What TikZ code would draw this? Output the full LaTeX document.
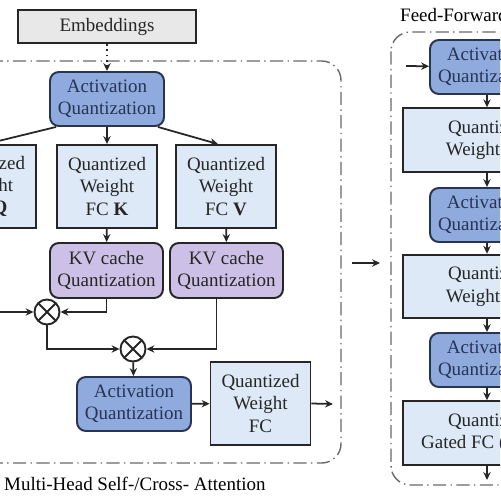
\documentclass[tikz,border=0pt]{standalone}
\usepackage{fontspec}
\setmainfont{Liberation Serif}
\usetikzlibrary{arrows.meta,positioning}

\definecolor{actfill}{RGB}{143,170,220}
\definecolor{actline}{RGB}{38,52,86}
\definecolor{wfill}{RGB}{221,233,246}
\definecolor{kvfill}{RGB}{205,192,230}
\definecolor{embfill}{RGB}{232,232,232}
\definecolor{frame}{RGB}{105,105,105}

\tikzset{
	blk/.style = {draw=black!85, line width=1.1pt, align=center, inner sep=1pt,
		font=\fontsize{10.8}{12.6}\selectfont, text=black!85},
	actq/.style = {blk, draw=actline, fill=actfill, text=actline, rounded corners=5pt,
		minimum width=2.28cm, minimum height=1.08cm},
	wfc/.style = {blk, fill=wfill, minimum width=2cm, minimum height=1.66cm},
	wide/.style = {blk, fill=wfill, minimum width=3.36cm, minimum height=1.27cm},
	kvq/.style = {blk, fill=kvfill, rounded corners=5pt,
		minimum width=2.26cm, minimum height=1.1cm},
	mult/.style = {circle, draw=black!85, line width=1.1pt, minimum size=.5cm, inner sep=0pt, fill=white,
		path picture={\draw[line width=1.1pt] (path picture bounding box.south west) -- (path picture bounding box.north east)
			(path picture bounding box.north west) -- (path picture bounding box.south east);}},
	group/.style = {draw=frame, line width=.8pt, rounded corners=11pt,
		dash pattern=on 7.5pt off 2.5pt on .8pt off 2.5pt},
	flow/.style = {-{Stealth[length=4.5pt,width=4.2pt]}, line width=1pt, draw=black!85},
}

\begin{document}
\begin{tikzpicture}[x=0.02cm, y=0.02cm]
	\useasboundingbox (0,0) rectangle (500,-500);
	\clip (0,0) rectangle (500,-500);
	% 枠
	\draw [group] (-80,-61) rectangle (341,-463);
	\draw [group] (391,-32) rectangle (620,-485);
	\node [anchor=west, font=\fontsize{10.8}{12.6}\selectfont] (mhsa) at (-2,-484) {Multi-Head Self-/Cross- Attention};
	\node [anchor=west, font=\fontsize{10.8}{12.6}\selectfont] (ffn) at (394,-15) {Feed-Forward Network};

	% 注意機構
	\node [blk, fill=embfill, minimum width=3.56cm, minimum height=.66cm] (emb) at (107,-26.5) {Embeddings};
	\node [actq] (aq1) at (107,-99) {Activation\\Quantization};
	\node [wfc] (wq) at (-14,-186.5) {Quantized\\Weight\\FC \textbf{Q}};
	\node [wfc] (wk) at (107,-186.5) {Quantized\\Weight\\FC \textbf{K}};
	\node [wfc] (wv) at (226,-186.5) {Quantized\\Weight\\FC \textbf{V}};
	\node [kvq] (kvk) at (106.5,-270.5) {KV cache\\Quantization};
	\node [kvq] (kvv) at (226.5,-270.5) {KV cache\\Quantization};
	\node [mult] (m1) at (47,-312) {};
	\node [mult] (m2) at (133,-349) {};
	\node [actq] (aq2) at (134,-404) {Activation\\Quantization};
	\node [wfc] (wo) at (260.5,-403.5) {Quantized\\Weight\\FC};
	\coordinate (qin) at (-10,-312);
	\coordinate (aout) at (333,-404);

	\draw [flow, dotted, line width=1.5pt] (emb) -- (aq1);
	\draw [flow] ([xshift=4pt]aq1.south west) -- (wq.north);
	\draw [flow] (aq1) -- (wk);
	\draw [flow] ([xshift=-4pt]aq1.south east) -- ([xshift=-.16cm]wv.north);
	\draw [flow] (wk) -- (kvk);
	\draw [flow] (wv) -- (kvv);
	\draw [flow] (qin) -- (m1);
	\draw [flow] (kvk.south) |- (m1.east);
	\draw [flow] (m1.south) |- (m2.west);
	\draw [flow] ([xshift=-.2cm]kvv.south) |- (m2.east);
	\draw [flow] (m2) -- (aq2);
	\draw [flow] (aq2) -- (wo);
	\draw [flow] (wo.east) -- (aout);

	% 枠の間
	\coordinate (gapa) at (352,-263);
	\coordinate (gapb) at (380,-263);
	\draw [flow] (gapa) -- (gapb);

	% フィードフォワード
	\node [actq] (faq1) at (487,-67) {Activation\\Quantization};
	\node [wide] (fw1) at (487,-140) {Quantized\\Weight FC};
	\node [actq] (faq2) at (487,-215) {Activation\\Quantization};
	\node [wide] (fw2) at (487,-286.5) {Quantized\\Weight FC};
	\node [actq] (faq3) at (487,-360) {Activation\\Quantization};
	\node [wide] (fg) at (487,-433) {Quantized\\Gated FC (SiLU)};
	\coordinate (fin) at (406,-66);
	\coordinate (fout) at (487,-480);

	\draw [flow] (fin) -- (faq1);
	\draw [flow] (faq1) -- (fw1);
	\draw [flow] (fw1) -- (faq2);
	\draw [flow] (faq2) -- (fw2);
	\draw [flow] (fw2) -- (faq3);
	\draw [flow] (faq3) -- (fg);
	\draw [flow] (fg) -- (fout);
\end{tikzpicture}
\end{document}
